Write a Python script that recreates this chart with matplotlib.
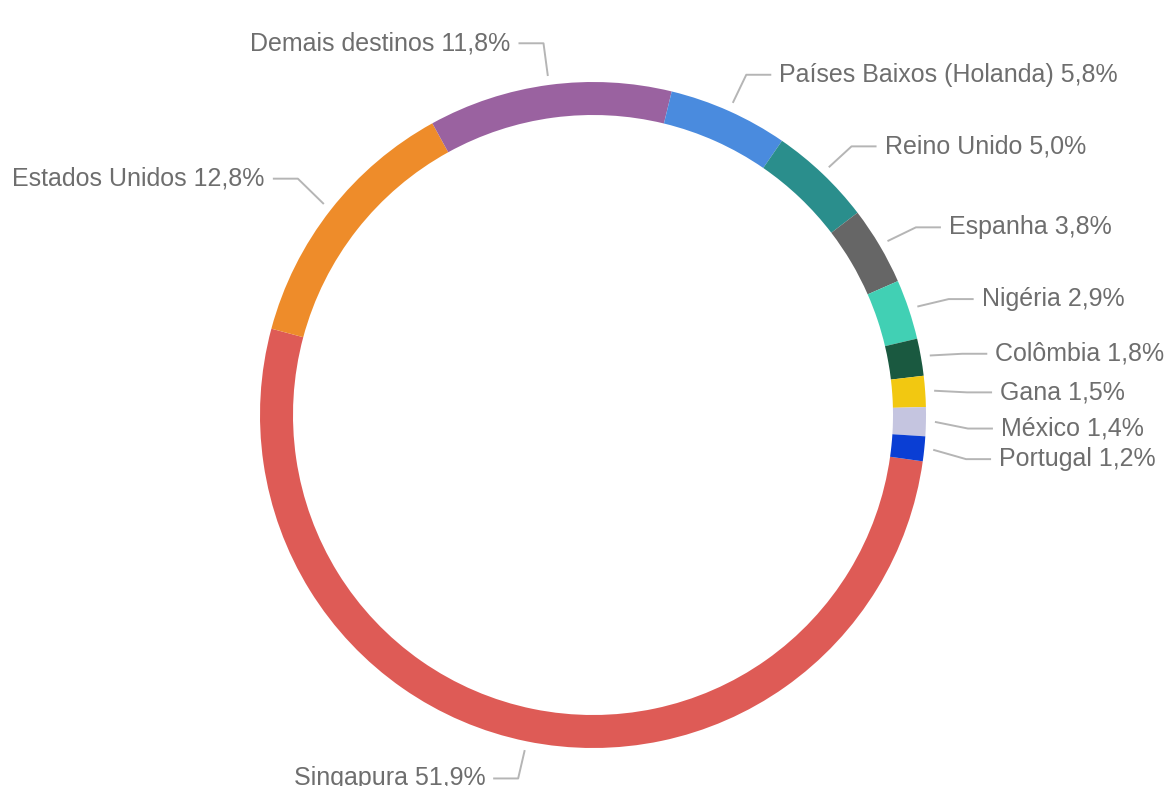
import numpy as np
import matplotlib
matplotlib.use("Agg")
import matplotlib.pyplot as plt

categories = ["Singapura", "Estados Unidos", "Demais destinos",
              "Países Baixos (Holanda)", "Reino Unido", "Espanha", "Nigéria",
              "Colômbia", "Gana", "México", "Portugal"]
shares = [51.9, 12.8, 11.8, 5.8, 5.0, 3.8, 2.9, 1.8, 1.5, 1.4, 1.2]
colors = ["#DE5B56", "#EE8C2A", "#9A62A0", "#4A8BDE", "#2A8E8C", "#666666",
          "#41D0B4", "#1A5940", "#F2C811", "#C5C5E0", "#0A3ED4"]
# small vertical nudges of label elbows (pixels, downward) to avoid overlap
label_nudge = [-4, -5, 0, 2, 3, 3, 3, 4, 4, 6, 6]

W, H = 1164, 786
fig = plt.figure(figsize=(W / 100, H / 100), dpi=100)
ax = fig.add_axes([0, 0, 1, 1])

cx, cy = 593, H - 415
R, ring = 333, 33
wedges, _ = ax.pie(shares, colors=colors, startangle=-8, counterclock=False,
                   radius=R, center=(cx, cy),
                   wedgeprops=dict(width=ring, linewidth=0))
ax.set_xlim(0, W)
ax.set_ylim(0, H)
ax.set_aspect("equal")
ax.axis("off")

text_color = "#6E6E6E"
line_color = "#B5B5B5"
for w, name, val, nudge in zip(wedges, categories, shares, label_nudge):
    mid = np.deg2rad((w.theta1 + w.theta2) / 2)
    d = np.array([np.cos(mid), np.sin(mid)])
    p0 = np.array([cx, cy]) + (R + 9) * d
    p1 = np.array([cx, cy]) + (R + 42) * d
    p1[1] -= nudge
    side = 1 if d[0] >= 0 else -1
    p2 = p1 + np.array([side * 25, 0])
    ax.plot([p0[0], p1[0], p2[0]], [p0[1], p1[1], p2[1]], color=line_color,
            lw=1.4, solid_capstyle="butt", clip_on=False)
    label = f"{name} {val:.1f}%".replace(".", ",")
    ax.text(p2[0] + side * 8, p1[1], label, ha="left" if side > 0 else "right",
            va="center", fontsize=18, color=text_color,
            family=["Liberation Sans", "DejaVu Sans"])

fig.savefig("out.png", dpi=100)
